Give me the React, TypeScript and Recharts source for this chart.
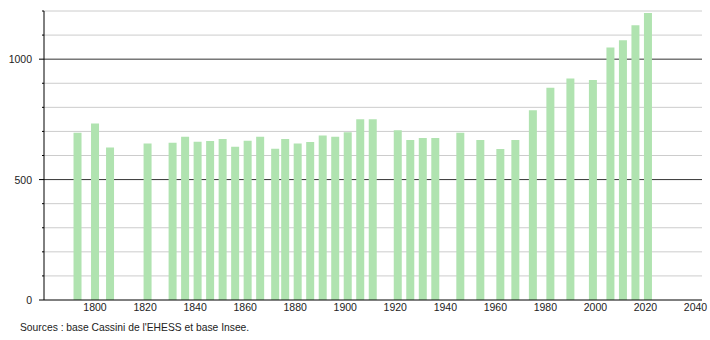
import { BarChart, Bar, XAxis, YAxis, CartesianGrid } from "recharts";

const years = [
  1793, 1800, 1806, 1821, 1831, 1836, 1841, 1846, 1851, 1856, 1861, 1866, 1872,
  1876, 1881, 1886, 1891, 1896, 1901, 1906, 1911, 1921, 1926, 1931, 1936, 1946,
  1954, 1962, 1968, 1975, 1982, 1990, 1999, 2006, 2011, 2016, 2021,
];
const population = [
  694, 733, 633, 650, 653, 678, 657, 660, 668, 636, 661, 678, 628, 668, 650,
  656, 683, 678, 697, 751, 751, 705, 664, 673, 673, 694, 664, 627, 664, 788,
  881, 920, 913, 1048, 1079, 1141, 1192,
];
const xTicks = [1800, 1820, 1840, 1860, 1880, 1900, 1920, 1940, 1960, 1980, 2000, 2020, 2040];
const yTicks = [0, 100, 200, 300, 400, 500, 600, 700, 800, 900, 1000, 1100, 1200];
const yLabels = [0, 500, 1000];
const minorLines = [100, 200, 300, 400, 600, 700, 800, 900, 1100, 1200];
const majorLines = [500, 1000];
const source = "Sources : base Cassini de l'EHESS et base Insee.";

const data = years.map((y, i) => ({ year: y, pop: population[i] }));

const font = "'Liberation Sans', Arial, sans-serif";

function YTick({ x, y, payload }: any) {
  const major = yLabels.includes(payload.value);
  return (
    <g>
      <line x1={x - (major ? 5 : 2)} x2={x} y1={y} y2={y} stroke="#000" />
      {major && (
        <text x={x - 12} y={y} dy={4} textAnchor="end" fontSize={10.5} fontFamily={font} fill="#222">
          {payload.value}
        </text>
      )}
    </g>
  );
}

export default function App() {
  return (
    <div style={{ position: "absolute", left: 0, top: 0, width: 710, height: 340, background: "#fff" }}>
      <BarChart width={710} height={340} data={data} margin={{ top: 11, right: 8, left: 0, bottom: 0 }}>
        <CartesianGrid vertical={false} horizontalValues={minorLines} stroke="#cccccc" />
        <CartesianGrid vertical={false} horizontalValues={majorLines} stroke="#333333" />
        <XAxis
          dataKey="year"
          type="number"
          domain={[1779.6, 2042.6]}
          ticks={xTicks}
          allowDataOverflow
          height={40}
          tickLine={false}
          tickSize={0}
          tickMargin={4}
          axisLine={{ stroke: "#000" }}
          tick={{ fontSize: 10.5, fontFamily: font, fill: "#222" }}
        />
        <YAxis
          domain={[0, 1200]}
          ticks={yTicks}
          width={44}
          tickLine={false}
          tickSize={0}
          tickMargin={0}
          axisLine={{ stroke: "#000" }}
          tick={<YTick />}
        />
        <Bar dataKey="pop" fill="#b0e3b0" barSize={8} isAnimationActive={false} />
      </BarChart>
      <div
        style={{
          position: "absolute",
          left: 20,
          top: 322,
          fontSize: 10.3,
          fontFamily: font,
          color: "#222",
          whiteSpace: "nowrap",
        }}
      >
        {source}
      </div>
    </div>
  );
}
